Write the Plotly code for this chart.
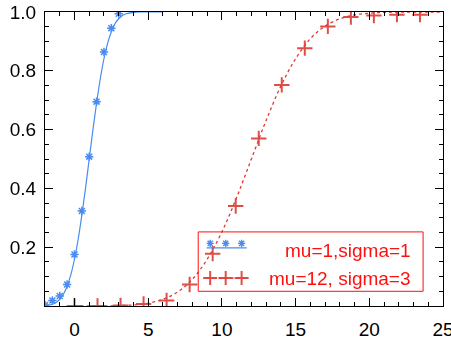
import plotly.graph_objects as go

# ---------------- data ----------------
blue_line_x = [-2, -1.75, -1.5, -1.25, -1, -0.75, -0.5, -0.25, 0, 0.25, 0.5, 0.75, 1,
               1.25, 1.5, 1.75, 2, 2.25, 2.5, 2.75, 3, 3.25, 3.5, 4, 4.5, 5, 6]
blue_line_y = [0.001, 0.003, 0.006, 0.012, 0.023, 0.040, 0.067, 0.106, 0.159, 0.227, 0.309,
               0.401, 0.500, 0.599, 0.691, 0.773, 0.841, 0.894, 0.933, 0.960, 0.977, 0.988,
               0.994, 0.999, 1.0, 1.0, 1.0]
blue_mark_x = [-2, -1.5, -1, -0.5, 0, 0.5, 1, 1.5, 2, 2.5, 3]
blue_mark_y = [0.003, 0.019, 0.034, 0.073, 0.175, 0.323, 0.508, 0.695, 0.864, 0.945, 0.994]

red_line_x = [0, 1, 2, 3, 4, 5, 6, 7, 8, 9, 10, 11, 12, 13, 14, 15, 16, 17, 18, 19, 20,
              21, 22, 23, 24, 25]
red_line_y = [0.0, 0.0001, 0.0004, 0.0013, 0.0038, 0.0098, 0.0228, 0.0478, 0.0912, 0.159,
              0.252, 0.369, 0.500, 0.631, 0.748, 0.841, 0.909, 0.952, 0.977, 0.990, 0.996,
              0.9987, 0.9996, 0.9999, 1.0, 1.0]
red_mark_x = [0, 1.5625, 3.125, 4.6875, 6.25, 7.8125, 9.375, 10.9375, 12.5, 14.0625,
              15.625, 17.1875, 18.75, 20.3125, 21.875, 23.4375]
red_mark_y = [0.0, 0.0002, 0.0015, 0.007, 0.019, 0.073, 0.178, 0.340, 0.570, 0.752,
              0.877, 0.951, 0.983, 0.988, 0.991, 0.991]

series_names = ["mu=1,sigma=1", "mu=12, sigma=3"]
x_ticks = [0, 5, 10, 15, 20, 25]
y_ticks = [0.2, 0.4, 0.6, 0.8, 1.0]
y_tick_text = ["0.2", "0.4", "0.6", "0.8", "1.0"]

# ---------------- styles ----------------
BLUE = "#4a8cf0"
RED = "#dc3c34"
LEG_RED = "#ff1010"
FONT = "Liberation Sans, Arial, Helvetica, sans-serif"

fig = go.Figure()

fig.add_trace(go.Scatter(x=blue_line_x, y=blue_line_y, mode="lines", line_shape="spline",
                         line=dict(color=BLUE, width=1.2), showlegend=False))
fig.add_trace(go.Scatter(x=blue_mark_x, y=blue_mark_y, mode="markers",
                         marker=dict(symbol="asterisk-open", size=7, color=BLUE,
                                     line=dict(color=BLUE, width=1.5)), showlegend=False))
fig.add_trace(go.Scatter(x=red_line_x, y=red_line_y, mode="lines", line_shape="spline",
                         line=dict(color=RED, width=1.3, dash="dot"), showlegend=False))
fig.add_trace(go.Scatter(x=red_mark_x, y=red_mark_y, mode="markers",
                         marker=dict(symbol="cross-thin-open", size=11, color=RED,
                                     line=dict(color=RED, width=2)), opacity=0.9,
                         showlegend=False))

# ---------------- hand-drawn legend on a hidden overlay axis ----------------
leg_x = [0.415, 0.454, 0.494]
fig.add_trace(go.Scatter(x=[0.406, 0.507], y=[0.198, 0.198], mode="lines",
                         line=dict(color=BLUE, width=1.2), xaxis="x2", yaxis="y2",
                         showlegend=False, cliponaxis=False))
fig.add_trace(go.Scatter(x=leg_x, y=[0.213] * 3, mode="markers",
                         marker=dict(symbol="asterisk-open", size=6, color=BLUE,
                                     line=dict(color=BLUE, width=1.4)),
                         xaxis="x2", yaxis="y2", showlegend=False, cliponaxis=False))
fig.add_trace(go.Scatter(x=[0.406, 0.507], y=[0.095, 0.095], mode="lines",
                         line=dict(color=RED, width=1.2, dash="dot"), xaxis="x2", yaxis="y2",
                         showlegend=False, cliponaxis=False))
fig.add_trace(go.Scatter(x=leg_x, y=[0.095] * 3, mode="markers",
                         marker=dict(symbol="cross-thin-open", size=10, color=RED,
                                     line=dict(color=RED, width=2)), opacity=0.9,
                         xaxis="x2", yaxis="y2", showlegend=False, cliponaxis=False))

fig.add_shape(type="rect", xref="paper", yref="paper", x0=0.385, x1=0.950, y0=0.050, y1=0.252,
              line=dict(color=LEG_RED, width=1), fillcolor="rgba(0,0,0,0)")
for name, yy in zip(series_names, [0.19, 0.095]):
    fig.add_annotation(text=name, xref="paper", yref="paper", x=0.925, y=yy,
                       xanchor="right", yanchor="middle", showarrow=False,
                       font=dict(family=FONT, size=19, color=LEG_RED))

axis_common = dict(showline=True, linecolor="black", linewidth=1, mirror="ticks",
                   ticks="inside", ticklen=8, tickwidth=1, tickcolor="black",
                   showgrid=False, zeroline=False, ticklabeloverflow="allow",
                   automargin=False,
                   tickfont=dict(family=FONT, size=19, color="black"))

fig.update_layout(
    width=451, height=341, autosize=False,
    margin=dict(l=45, r=8, t=12, b=35),
    paper_bgcolor="white", plot_bgcolor="white",
    showlegend=False,
    xaxis=dict(range=[-2, 25], tickvals=x_ticks, ticktext=[str(v) for v in x_ticks],
               minor=dict(ticks="inside", ticklen=4, dtick=1, tick0=0, tickcolor="black"),
               ticklabelstandoff=6, **axis_common),
    yaxis=dict(range=[0, 1], tickvals=y_ticks, ticktext=y_tick_text,
               minor=dict(ticks="inside", ticklen=4, dtick=0.05, tick0=0, tickcolor="black"),
               ticklabelstandoff=4, **axis_common),
    xaxis2=dict(range=[0, 1], overlaying="x", visible=False, fixedrange=True),
    yaxis2=dict(range=[0, 1], overlaying="y", visible=False, fixedrange=True),
)

fig.write_html("out.html")
